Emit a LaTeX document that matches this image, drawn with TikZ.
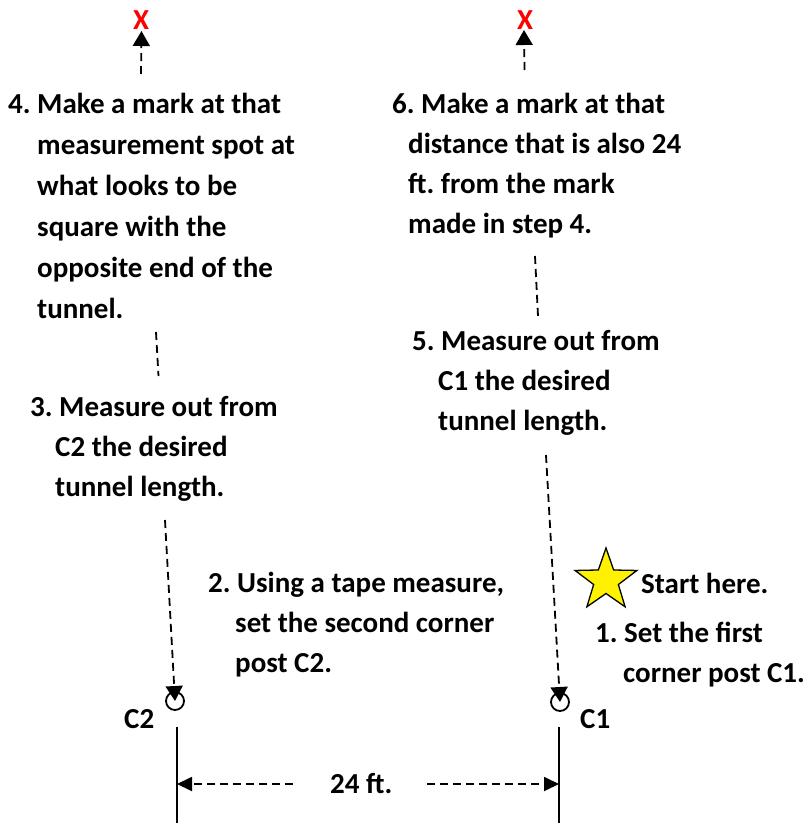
\documentclass[tikz,border=0pt]{standalone}
\usepackage{fontspec}
\setmainfont{Carlito}
\usetikzlibrary{arrows.meta}
\begin{document}
\frenchspacing
\begin{tikzpicture}[x=1pt,y=-1pt,
  txt/.style={inner sep=0pt, anchor=north west, align=left, font=\bfseries\fontsize{29}{40}\selectfont},
  txtwide/.style={txt, font=\bfseries\fontsize{29}{41}\selectfont},
  lbl/.style={inner sep=0pt, anchor=base west, font=\bfseries\fontsize{29}{34}\selectfont},
  redx/.style={inner sep=0pt, text=red, font=\bfseries\fontsize{29}{30}\selectfont},
  dashline/.style={line width=1.8pt, dash pattern=on 8pt off 5pt},
  tip/.style={-{Triangle[length=15pt,width=17pt]}},
  hz/.style={-{Triangle[length=15pt,width=14pt]}},
  post/.style={circle, draw, line width=1.8pt, minimum size=18pt, inner sep=0pt},
  postline/.style={line width=2pt},
  starshape/.style={draw, line width=1.3pt, fill=yellow, line join=miter}]
\useasboundingbox (0,0) rectangle (808,823);

% text blocks (baseline of first line = y + 30)
\node[txtwide] (s4) at (8,83) {\rule{0pt}{30pt}4. Make a mark at that\\
  \hspace*{29pt}measurement spot at\\
  \hspace*{29pt}what looks to be\\
  \hspace*{29pt}square with the\\
  \hspace*{29pt}opposite end of the\\
  \hspace*{29pt}tunnel.};
\node[txt] (s6) at (392,83) {\rule{0pt}{30pt}6. Make a mark at that\\
  \hspace*{16pt}distance that is also 24\\
  \hspace*{16pt}ft. from the mark\\
  \hspace*{16pt}made in step 4.};
\node[txt] (s5) at (412,320) {\rule{0pt}{30pt}5. Measure out from\\
  \hspace*{26pt}C1 the desired\\
  \hspace*{26pt}tunnel length.};
\node[txt] (s3) at (30,386) {\rule{0pt}{30pt}3. Measure out from\\
  \hspace*{25pt}C2 the desired\\
  \hspace*{25pt}tunnel length.};
\node[txt] (s2) at (208,562) {\rule{0pt}{30pt}2. Using a tape measure,\\
  \hspace*{27pt}set the second corner\\
  \hspace*{27pt}post C2.};
\node[txt] (s1) at (595,612) {\rule{0pt}{30pt}1. Set the first\\
  \hspace*{28pt}corner post C1.};
\node[lbl] (start) at (641,593) {Start here.};

% star
\begin{scope}[shift={(606,580.5)}]
\draw[starshape] (-90:32.5) -- (-54:13) -- (-18:32.5) -- (18:13) -- (54:32.5)
  -- (90:13) -- (126:32.5) -- (162:13) -- (198:32.5) -- (234:13) -- cycle;
\end{scope}

% red marks
\node[redx] (x4) at (141,20) {X};
\node[redx] (x6) at (525,20) {X};
\coordinate (a4) at (141,74);
\coordinate (t4) at (141.5,31);
\coordinate (a6) at (524.5,70);
\coordinate (t6) at (524,30);
\draw[dashline, tip] (a4) -- (t4);
\draw[dashline, tip] (a6) -- (t6);

% links between steps
\coordinate (b4) at (156,332);
\coordinate (b3) at (158.5,376);
\draw[dashline] (b4) -- (b3);
\coordinate (b6) at (535,256);
\coordinate (b5) at (538,316);
\draw[dashline] (b6) -- (b5);

% posts
\node[post] (c2) at (175,701) {};
\node[post] (c1) at (560,702) {};
\node[lbl] (lc2) at (124,728) {C2};
\node[lbl] (lc1) at (580,728) {C1};

\coordinate (d3) at (165,520);
\coordinate (d5) at (546,455);
\draw[dashline, tip] (d3) -- (c2.center);
\draw[dashline, tip] (d5) -- (c1.center);

% vertical lines
\coordinate (l2t) at (177,727);
\coordinate (l2b) at (177,823);
\coordinate (l1t) at (559,727);
\coordinate (l1b) at (559,823);
\draw[postline] (l2t) -- (l2b);
\draw[postline] (l1t) -- (l1b);

% dimension
\coordinate (hl) at (177,784);
\coordinate (hr) at (559,784);
\coordinate (hm1) at (293,784);
\coordinate (hm2) at (427,784);
\node[lbl] (dim) at (330,793) {24 ft.};
\draw[dashline, hz] (hm1) -- (hl);
\draw[dashline, hz] (hm2) -- (hr);
\end{tikzpicture}
\end{document}
